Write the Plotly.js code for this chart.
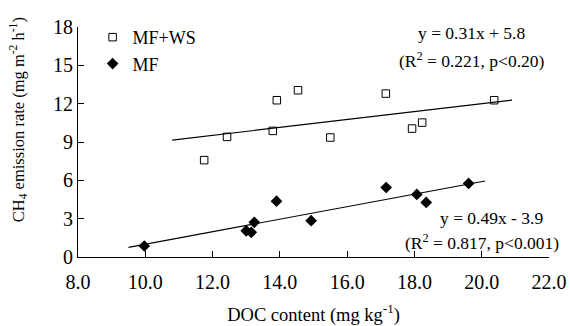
<!DOCTYPE html>
<html>
<head>
<meta charset="utf-8">
<script src="https://cdn.plot.ly/plotly-3.0.1.min.js"></script>
<style>html,body{margin:0;padding:0;background:#fff;}#chart{width:570px;height:326px;}</style>
</head>
<body>
<div id="chart"></div>
<script>
// MF+WS (open squares)
const mfwsX = [11.75, 12.43, 13.79, 13.91, 14.54, 15.50, 17.15, 17.93, 18.23, 20.37];
const mfwsY = [7.58, 9.40, 9.87, 12.27, 13.05, 9.35, 12.79, 10.05, 10.52, 12.27];
// MF (filled diamonds)
const mfX = [9.97, 13.00, 13.15, 13.24, 13.90, 14.93, 17.16, 18.07, 18.35, 19.61];
const mfY = [0.86, 2.05, 1.93, 2.71, 4.37, 2.84, 5.44, 4.90, 4.27, 5.76];
// regression fits (slope, intercept, x-range of drawn line)
const fitMFWS = {slope: 0.31, intercept: 5.8, xr: [10.8, 20.9]};
const fitMF = {slope: 0.49, intercept: -3.9, xr: [9.5, 20.1]};
const xTicks = [8, 10, 12, 14, 16, 18, 20, 22];
const xTickText = ["8.0", "10.0", "12.0", "14.0", "16.0", "18.0", "20.0", "22.0"];
const yTicks = [0, 3, 6, 9, 12, 15, 18];

const F = "'Liberation Serif', 'Times New Roman', serif";
const fitLine = f => ({
  x: f.xr, y: f.xr.map(v => f.slope * v + f.intercept),
  mode: 'lines', line: {color: '#000', width: 1.2}, showlegend: false, hoverinfo: 'skip'
});

const data = [
  {x: mfwsX, y: mfwsY, mode: 'markers', name: 'MF+WS',
   marker: {symbol: 'square-open', size: 7.5, color: '#000', line: {width: 1, color: '#000'}}},
  {x: mfX, y: mfY, mode: 'markers', name: 'MF',
   marker: {symbol: 'diamond', size: 9, color: '#000'}},
  fitLine(fitMFWS), fitLine(fitMF)
];

const px = (x, y) => ({x: (x - 78) / 471, y: (257 - y) / 230.4});

const notes = [
  {x: 471.7, y: 33, text: 'y = 0.31x + 5.8'},
  {x: 471.7, y: 60, text: '(R<sup>2</sup> = 0.221, p<0.20)'},
  {x: 491.7, y: 218, text: 'y = 0.49x - 3.9'},
  {x: 481.7, y: 241.5, text: '(R<sup>2</sup> = 0.817, p<0.001)'}
].map(a => Object.assign({
  text: a.text, showarrow: false, xref: 'paper', yref: 'paper',
  xanchor: 'center', yanchor: 'middle',
  font: {family: F, size: 17.5, color: '#000'}
}, px(a.x, a.y)));

notes.push(Object.assign({
  text: 'CH<sub>4</sub> emission rate (mg m<sup>-2</sup> h<sup>-1</sup>)', showarrow: false,
  xref: 'paper', yref: 'paper', xanchor: 'center', yanchor: 'middle', textangle: -90,
  font: {family: F, size: 16.5, color: '#000'}
}, px(18, 120)));

const layout = {
  width: 570, height: 326,
  margin: {l: 78, r: 21, t: 27, b: 69},
  paper_bgcolor: '#fff', plot_bgcolor: '#fff',
  font: {family: F, size: 17, color: '#000'},
  showlegend: true,
  legend: {x: 0.031, y: 1.035, xanchor: 'left', yanchor: 'top', bgcolor: 'rgba(0,0,0,0)',
           font: {family: F, size: 18}, tracegroupgap: 0, itemwidth: 30},
  xaxis: {range: [8, 22], tickvals: xTicks, ticktext: xTickText, showgrid: false, zeroline: false,
          showline: true, linecolor: '#000', linewidth: 1, ticks: 'inside', ticklen: 6, tickcolor: '#000',
          tickfont: {family: F, size: 20}, ticklabelstandoff: 7, mirror: false,
          title: {text: 'DOC content (mg kg<sup>-1</sup>)', font: {family: F, size: 18.5}, standoff: 22}},
  yaxis: {range: [0, 18], tickvals: yTicks, showgrid: false, zeroline: false,
          showline: true, linecolor: '#000', linewidth: 1, ticks: 'inside', ticklen: 6, tickcolor: '#000',
          tickfont: {family: F, size: 20}},
  annotations: notes
};

Plotly.newPlot('chart', data, layout, {displayModeBar: false, staticPlot: true});
</script>
</body>
</html>
